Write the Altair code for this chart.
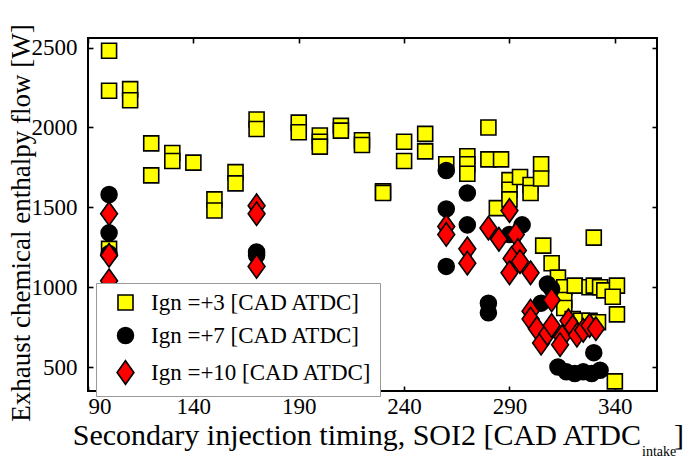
import altair as alt
import pandas as pd

# ---------------- data ----------------
labels = ["Ign =+3 [CAD ATDC]", "Ign =+7 [CAD ATDC]", "Ign =+10 [CAD ATDC]"]

sq_x = [100, 100, 100, 110, 110, 120, 120, 130, 130, 140, 150, 150, 160, 160,
        170, 170, 190, 190, 200, 200, 200, 210, 210, 220, 220, 230, 230,
        240, 240, 250, 250, 260, 270, 270, 270, 280, 280, 286, 284,
        290, 290, 290, 295, 300, 300, 305, 305, 306, 310, 313,
        316, 316, 316, 321, 328, 330, 333, 335, 341, 339, 341, 330,
        320, 324, 328, 332, 340]
sq_y = [2480, 2230, 1240, 2240, 2170, 1900, 1700, 1840, 1790, 1780, 1550, 1480, 1720, 1650,
        2050, 1990, 2030, 1970, 1950, 1910, 1880, 2010, 1980, 1920, 1890, 1600, 1590,
        1910, 1790, 1960, 1850, 1770, 1820, 1770, 1710, 2000, 1800, 1800, 1495,
        1670, 1610, 1550, 1690, 1640, 1590, 1770, 1680, 1260, 1150, 1060,
        1000, 920, 870, 1010, 1000, 1010, 1000, 980, 1010, 940, 830, 1310,
        800, 790, 790, 780, 410]

ci_x = [100, 100, 100, 170, 170, 260, 260, 260, 270, 270, 280, 280, 290, 296,
        305, 308, 310, 330, 313, 317, 321, 325, 329, 333]
ci_y = [1580, 1340, 1210, 1220, 1200, 1730, 1490, 1130, 1590, 1390, 900, 840, 1330, 1390,
        900, 1020, 990, 590, 500, 470, 460, 470, 460, 480]

di_x = [100, 100, 100, 170, 170, 170, 260, 260, 270, 270, 280, 285, 290,
        293, 294, 291, 295, 290, 300, 310,
        300, 300, 303, 305, 308, 310, 315, 318, 320, 322, 325, 328, 331, 314]
di_y = [1460, 1200, 1040, 1510, 1460, 1130, 1380, 1330, 1240, 1150, 1370, 1300, 1480,
        1330, 1230, 1180, 1160, 1090, 1090, 920,
        850, 800, 740, 650, 710, 760, 690, 790, 750, 700, 730, 760, 740, 640]

x_ticks = [90, 140, 190, 240, 290, 340]
y_ticks = [500, 1000, 1500, 2000, 2500]

# ---------------- chart ----------------
FONT = "Liberation Serif"
W, H = 569, 353
X_DOM = [90, 360]
Y_DOM = [350, 2560]
DIAMOND = "M0,-1.4L1,0L0,1.4L-1,0Z"

df = pd.concat([
    pd.DataFrame({"soi2": sq_x, "h": sq_y, "ign": labels[0]}),
    pd.DataFrame({"soi2": ci_x, "h": ci_y, "ign": labels[1]}),
    pd.DataFrame({"soi2": di_x, "h": di_y, "ign": labels[2]}),
], ignore_index=True)

xs = alt.Scale(domain=X_DOM, nice=False, zero=False)
ys = alt.Scale(domain=Y_DOM, nice=False, zero=False)

tick_axis = dict(labels=False, domain=False, grid=False, ticks=True, tickSize=5,
                 tickWidth=1.6, tickColor="black", title=None)

points = alt.Chart(df).mark_point(filled=True, stroke="black", strokeWidth=1.6, opacity=1).encode(
    x=alt.X("soi2:Q", scale=xs,
            axis=alt.Axis(orient="bottom", values=x_ticks, ticks=False, domain=False, grid=False,
                          labelFont=FONT, labelFontSize=23, labelColor="black", labelPadding=4,
                          title=None)),
    y=alt.Y("h:Q", scale=ys,
            axis=alt.Axis(orient="left", values=y_ticks, ticks=False, domain=False, grid=False,
                          labelFont=FONT, labelFontSize=23, labelColor="black", labelPadding=11,
                          format="d", title=None)),
    color=alt.Color("ign:N", sort=labels,
                    scale=alt.Scale(domain=labels, range=["#ffff00", "#000000", "#ff0000"]),
                    legend=alt.Legend(title=None, orient="none", legendX=8, legendY=245,
                                      strokeColor="#999999", fillColor="white", padding=8,
                                      labelFont=FONT, labelFontSize=23, labelColor="black",
                                      labelLimit=400, symbolOffset=10,
                                      rowPadding=9, symbolSize=330, labelOffset=14,
                                      symbolStrokeColor="black", symbolStrokeWidth=1.6)),
    shape=alt.Shape("ign:N", sort=labels,
                    scale=alt.Scale(domain=labels, range=["square", "circle", DIAMOND])),
    size=alt.Size("ign:N", scale=alt.Scale(domain=labels, range=[225, 283, 320]), legend=None),
)

ticks_a = alt.Chart(df).mark_point(opacity=0).encode(
    x=alt.X("soi2:Q", scale=xs, axis=alt.Axis(orient="top", offset=-H, values=x_ticks, **tick_axis)),
    y=alt.Y("h:Q", scale=ys, axis=alt.Axis(orient="right", offset=-W, values=y_ticks, **tick_axis)),
)
ticks_b = alt.Chart(df).mark_point(opacity=0).encode(
    x=alt.X("soi2:Q", scale=xs, axis=alt.Axis(orient="bottom", offset=-H, values=x_ticks, **tick_axis)),
    y=alt.Y("h:Q", scale=ys, axis=alt.Axis(orient="left", offset=-W, values=y_ticks, **tick_axis)),
)

one = alt.Data(values=[{}])
ytitle = alt.Chart(one).mark_text(angle=270, font=FONT, fontSize=27, align="center",
                                  baseline="middle", color="black").encode(
    x=alt.value(-66), y=alt.value(185), text=alt.value("Exhaust chemical enthalpy flow [W]"))
xtitle = alt.Chart(one).mark_text(font=FONT, fontSize=30, align="right",
                                  baseline="alphabetic", color="black").encode(
    x=alt.value(553), y=alt.value(407), text=alt.value("Secondary injection timing, SOI2 [CAD ATDC"))
xsub = alt.Chart(one).mark_text(font=FONT, fontSize=14, align="left",
                                baseline="alphabetic", color="black").encode(
    x=alt.value(554), y=alt.value(418), text=alt.value("intake"))
xbr = alt.Chart(one).mark_text(font=FONT, fontSize=30, align="left",
                               baseline="alphabetic", color="black").encode(
    x=alt.value(586), y=alt.value(407), text=alt.value("]"))

chart = alt.layer(points, ticks_a, ticks_b, ytitle, xtitle, xsub, xbr).resolve_axis(
    x="independent", y="independent"
).properties(
    width=W, height=H,
    autosize=alt.AutoSizeParams(type="none"),
    padding={"left": 88, "top": 38, "right": 26, "bottom": 67},
    background="white",
).configure_view(stroke="black", strokeWidth=2)

chart.save("out.html", embed_options={"renderer": "svg", "actions": False})
